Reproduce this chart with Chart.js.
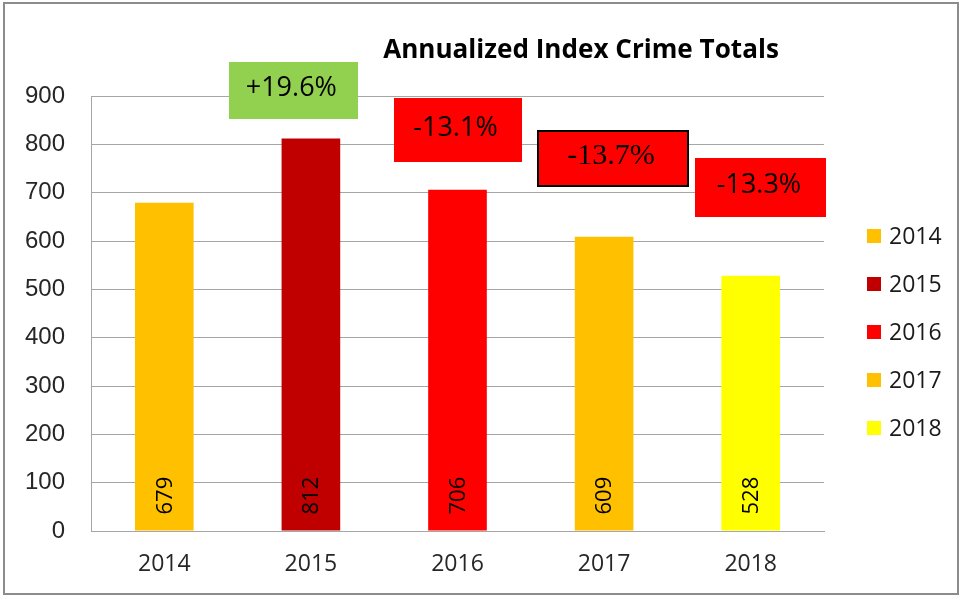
<!DOCTYPE html>
<html>
<head>
<meta charset="utf-8">
<script src="https://cdn.jsdelivr.net/npm/chart.js@4"></script>
<style>
  html, body { margin: 0; padding: 0; background: #fff; }
  #wrap { width: 962px; height: 598px; }
</style>
</head>
<body>
<div id="wrap"><canvas id="grafico" width="962" height="598"></canvas></div>
<script>
  // data
  const years = ['2014', '2015', '2016', '2017', '2018'];
  const totals = [679, 812, 706, 609, 528];
  const barColors = ['#FFC000', '#C00000', '#FF0000', '#FFC000', '#FFFF00'];
  const yTicks = [0, 100, 200, 300, 400, 500, 600, 700, 800, 900];
  const changes = ['+19.6%', '-13.1%', '-13.7%', '-13.3%'];

  // callout boxes: x in category units, y in data units, size in px
  const callouts = [
    { x: 0.88, y: 911, w: 129, h: 57, fill: '#92D050', font: '27px "Open Sans"', border: false },
    { x: 2.00, y: 830, w: 128, h: 64, fill: '#FF0000', font: '27px "Open Sans"', border: false },
    { x: 3.06, y: 771, w: 150, h: 55, fill: '#FF0000', font: '30px "Liberation Serif"', border: true },
    { x: 4.07, y: 711, w: 131, h: 59, fill: '#FF0000', font: '27px "Open Sans"', border: false }
  ];

  const frame = {
    id: 'frame',
    beforeDraw(chart) {
      const c = chart.ctx;
      c.save();
      c.fillStyle = '#fff';
      c.fillRect(0, 0, chart.width, chart.height);
      c.strokeStyle = '#8c8c8c';
      c.lineWidth = 2;
      c.strokeRect(4, 3, 954, 591);
      c.restore();
    },
    afterDraw(chart) {
      const c = chart.ctx;
      const xs = chart.scales.x, ys = chart.scales.y;
      c.save();

      // title
      const title = 'Annualized Index Crime Totals';
      c.font = 'bold 22px "Open Sans"';
      const size = 22 * 396 / c.measureText(title).width;
      c.font = 'bold ' + size.toFixed(1) + 'px "Open Sans"';
      c.fillStyle = '#000';
      c.textAlign = 'center';
      c.textBaseline = 'alphabetic';
      c.fillText(title, 581, 58);

      // values inside bars, rotated
      const meta = chart.getDatasetMeta(0);
      meta.data.forEach((bar, i) => {
        c.save();
        c.translate(bar.x + 1, bar.base - 16);
        c.rotate(-Math.PI / 2);
        c.font = '22px "Open Sans"';
        c.fillStyle = '#000';
        c.textAlign = 'left';
        c.textBaseline = 'middle';
        c.fillText(String(totals[i]), 0, 0);
        c.restore();
      });

      // percent change callouts
      callouts.forEach((b, i) => {
        const cx = xs.getPixelForValue(b.x);
        const cy = ys.getPixelForValue(b.y);
        const l = Math.round(cx - b.w / 2), t = Math.round(cy - b.h / 2);
        c.fillStyle = b.fill;
        c.fillRect(l, t, b.w, b.h);
        if (b.border) {
          c.strokeStyle = '#000';
          c.lineWidth = 2;
          c.strokeRect(l, t, b.w, b.h);
        }
        c.font = b.font;
        c.fillStyle = '#000';
        c.textAlign = 'center';
        c.textBaseline = 'middle';
        c.fillText(changes[i], cx - 2, cy - 2);
      });

      // legend
      years.forEach((yr, i) => {
        const cy = 236 + i * 48;
        c.fillStyle = barColors[i];
        c.fillRect(867, cy - 7, 14, 14);
        c.font = '23px "Open Sans"';
        c.fillStyle = '#1a1a1a';
        c.textAlign = 'left';
        c.textBaseline = 'middle';
        c.fillText(yr, 889, cy + 1);
      });
      c.restore();
    }
  };

  const ctx = document.getElementById('grafico').getContext('2d');

  const grafico = new Chart(ctx, {
    type: 'bar',
    data: {
      labels: years,
      datasets: [{
        label: 'Index Crime Totals',
        data: totals,
        backgroundColor: barColors,
        borderWidth: 0,
        categoryPercentage: 1,
        barPercentage: 0.4
      }]
    },
    options: {
      responsive: false,
      animation: false,
      layout: { padding: { left: 0, top: 96, right: 138, bottom: 0 } },
      plugins: {
        legend: { display: false },
        title: { display: false },
        tooltip: { enabled: false }
      },
      scales: {
        x: {
          grid: { display: false, drawTicks: false },
          border: { display: true, color: '#a6a6a6', width: 1 },
          ticks: {
            padding: 20,
            color: '#262626',
            font: { family: 'Open Sans', size: 23 }
          },
          afterFit(s) { s.height = 67; }
        },
        y: {
          min: 0,
          max: 900,
          afterBuildTicks(s) { s.ticks = yTicks.map(v => ({ value: v })); },
          grid: { color: '#a6a6a6', drawTicks: false },
          border: { display: true, color: '#a6a6a6', width: 1 },
          ticks: {
            padding: 26,
            color: '#262626',
            font: { family: 'Liberation Sans', size: 24 }
          },
          afterFit(s) { s.width = 91; }
        }
      }
    },
    plugins: [frame]
  });
</script>
</body>
</html>
